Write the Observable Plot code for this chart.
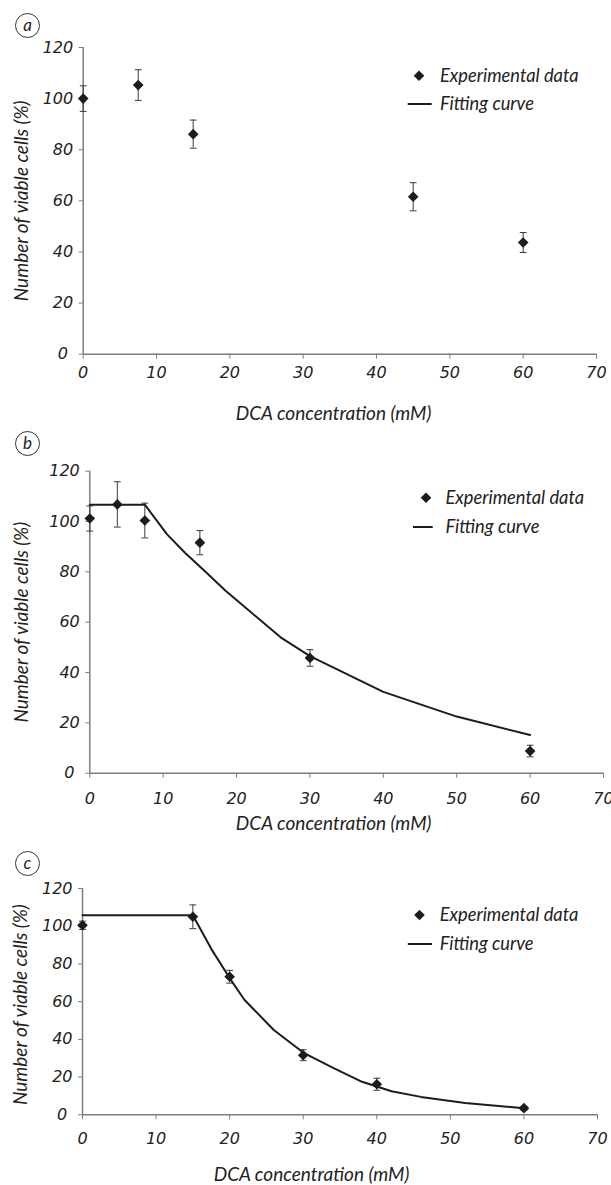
<!DOCTYPE html>
<html>
<head>
<meta charset="utf-8">
<script src="https://cdn.jsdelivr.net/npm/d3@7"></script>
<script src="https://cdn.jsdelivr.net/npm/@observablehq/plot@0.6"></script>
<style>
  body { margin: 0; background: #fff; }
  #root { position: relative; width: 611px; height: 1185px; overflow: hidden; background: #fff; }
  .plot { position: absolute; left: 0; }
  .badge { position: absolute; width: 25px; height: 25px; border: 1px solid #333; border-radius: 50%;
           font: italic 17px Lato, sans-serif; color: #222; display: flex; align-items: center; justify-content: center;
           box-sizing: border-box; line-height: 1; padding-bottom: 2px; }
  .leg { position: absolute; font: italic 18.3px Lato, sans-serif; color: #222; white-space: nowrap; line-height: 1; }
  .legsym { position: absolute; overflow: visible; }
</style>
</head>
<body>
<div id="root"></div>
<script>
// ---------- data ----------
const xTicks = [0, 10, 20, 30, 40, 50, 60, 70];
const yTicks = [0, 20, 40, 60, 80, 100, 120];
const xLabel = "DCA concentration (mM)";
const yLabel = "Number of viable cells (%)";
const legendLabels = ["Experimental data", "Fitting curve"];
const panelNames = ["a", "b", "c"];

// panel a
const aConc   = [0, 7.5, 15, 45, 60];
const aViable = [100, 105.3, 86.1, 61.6, 43.7];
const aErr    = [5, 6, 5.5, 5.5, 3.9];

// panel b
const bConc   = [0, 3.75, 7.5, 15, 30, 60];
const bViable = [101.2, 106.8, 100.4, 91.6, 45.8, 8.8];
const bErr    = [5, 9, 6.9, 4.8, 3.3, 2.3];
const bFitConc   = [0, 7.5, 10.5, 13, 15.4, 18.5, 26, 30, 40, 50, 60];
const bFitViable = [106.7, 106.7, 95, 87.5, 81, 72.5, 54, 46.5, 32.3, 22.5, 15.2];

// panel c
const cConc   = [0, 15, 20, 30, 40, 60];
const cViable = [100.5, 105, 73.2, 31.6, 16.2, 3.5];
const cErr    = [2.2, 6.3, 3.4, 2.9, 3.2, 1];
const cFitConc   = [0, 15, 17.5, 20, 22, 26, 30, 34, 38, 42, 46, 52, 60];
const cFitViable = [105.8, 105.8, 88, 72.5, 61, 45, 33, 25, 17.5, 12.5, 9.5, 6.2, 3.5];

// ---------- helpers ----------
const pts = (xs, ys, es) => xs.map((x, i) => ({x, y: ys[i], lo: ys[i] - es[i], hi: ys[i] + es[i]}));
const line = (xs, ys) => xs.map((x, i) => ({x, y: ys[i]}));

const capSymbol = {
  draw(ctx, size) {
    const w = Math.sqrt(size / Math.PI);
    ctx.moveTo(-w, 0);
    ctx.lineTo(w, 0);
  }
};

const AXIS = "#7d7d7d";
const INK = "#1c1c1c";
const LABFONT = {fontFamily: "Lato, sans-serif", fontStyle: "italic", fontSize: 19};

const panels = [
  { name: "a", top: 0, height: 430, mt: 47, mb: 76.3, ml: 82.7, mr: 15, tickPad: 7,
    pts: pts(aConc, aViable, aErr), fit: null,
    xlabDx: -6.3, xlabDy: 59.3, ylabDx: -61.7, ylabDy: 0,
    badge: [27.7, 25.7],
    leg: { d: [419, 75.7], l: [407.7, 431.7, 104], tx: 440 } },
  { name: "b", top: 430, height: 410, mt: 40.7, mb: 67.3, ml: 89.3, mr: 8, tickPad: 14,
    pts: pts(bConc, bViable, bErr), fit: line(bFitConc, bFitViable),
    xlabDx: -13, xlabDy: 50.3, ylabDx: -68, ylabDy: 0,
    badge: [27.5, 443.3],
    leg: { d: [426, 497.7], l: [413, 432.7, 527], tx: 445.5 } },
  { name: "c", top: 840, height: 345, mt: 48, mb: 70.7, ml: 82, mr: 14, tickPad: 13,
    pts: pts(cConc, cViable, cErr), fit: line(cFitConc, cFitViable),
    xlabDx: -28.5, xlabDy: 60, ylabDx: -62, ylabDy: 3,
    badge: [27.3, 863.3],
    leg: { d: [419.5, 915], l: [407.8, 432, 944], tx: 439.7 } }
];

const root = document.getElementById("root");

panels.forEach((p, i) => {
  const marks = [
    Plot.ruleY([0], {stroke: AXIS, strokeWidth: 1.5}),
    Plot.ruleX([0], {stroke: AXIS, strokeWidth: 1.5}),
    Plot.axisX({ticks: xTicks, tickSize: 5, tickPadding: p.tickPad, stroke: AXIS, fill: "#222", label: null}),
    Plot.axisY({ticks: yTicks, tickSize: 4, tickPadding: 6, stroke: AXIS, fill: "#222", label: null,
                tickFormat: d => d === 0 ? "0\u2004" : String(d)}),
    Plot.ruleX(p.pts, {x: "x", y1: "lo", y2: "hi", stroke: "#3a3a3a", strokeWidth: 1}),
    Plot.dot(p.pts, {x: "x", y: "hi", symbol: capSymbol, r: 3.4, stroke: "#3a3a3a", strokeWidth: 1, fill: "none"}),
    Plot.dot(p.pts, {x: "x", y: "lo", symbol: capSymbol, r: 3.4, stroke: "#3a3a3a", strokeWidth: 1, fill: "none"}),
  ];
  if (p.fit) marks.push(Plot.line(p.fit, {x: "x", y: "y", stroke: INK, strokeWidth: 2}));
  marks.push(
    Plot.dot(p.pts, {x: "x", y: "y", symbol: "diamond2", r: 4.8, fill: INK, stroke: "none"}),
    Plot.text([xLabel], {text: d => d, frameAnchor: "bottom", textAnchor: "middle", lineAnchor: "middle",
                         dx: p.xlabDx, dy: p.xlabDy, fill: "#222", ...LABFONT}),
    Plot.text([yLabel], {text: d => d, frameAnchor: "left", textAnchor: "middle", lineAnchor: "middle",
                         dx: p.ylabDx, dy: p.ylabDy, rotate: -90, fill: "#222", ...LABFONT})
  );
  const chart = Plot.plot({
    width: 611, height: p.height,
    marginTop: p.mt, marginBottom: p.mb, marginLeft: p.ml, marginRight: p.mr,
    x: {domain: [0, 70]},
    y: {domain: [0, 120]},
    style: {fontFamily: "'DejaVu Sans', sans-serif", fontStyle: "oblique", fontSize: "16px", color: "#222", background: "transparent", overflow: "visible"},
    marks
  });
  chart.classList.add("plot");
  chart.style.top = p.top + "px";
  root.appendChild(chart);

  // panel badge
  const b = document.createElement("div");
  b.className = "badge";
  b.textContent = panelNames[i];
  b.style.left = (p.badge[0] - 12.5) + "px";
  b.style.top = (p.badge[1] - 12.5) + "px";
  root.appendChild(b);

  // legend
  const ns = "http://www.w3.org/2000/svg";
  const sym = document.createElementNS(ns, "svg");
  sym.setAttribute("class", "legsym");
  sym.setAttribute("width", 611); sym.setAttribute("height", 1185);
  sym.style.left = "0px"; sym.style.top = "0px";
  const poly = document.createElementNS(ns, "path");
  const [dx0, dy0] = p.leg.d, s = 5.3;
  poly.setAttribute("d", `M${dx0},${dy0 - s}L${dx0 + s},${dy0}L${dx0},${dy0 + s}L${dx0 - s},${dy0}Z`);
  poly.setAttribute("fill", INK);
  sym.appendChild(poly);
  const ln = document.createElementNS(ns, "line");
  ln.setAttribute("x1", p.leg.l[0]); ln.setAttribute("x2", p.leg.l[1]);
  ln.setAttribute("y1", p.leg.l[2]); ln.setAttribute("y2", p.leg.l[2]);
  ln.setAttribute("stroke", INK); ln.setAttribute("stroke-width", 2);
  sym.appendChild(ln);
  root.appendChild(sym);

  [[legendLabels[0], dy0], [legendLabels[1], p.leg.l[2]]].forEach(([t, y]) => {
    const d = document.createElement("div");
    d.className = "leg";
    d.textContent = t;
    d.style.left = p.leg.tx + "px";
    d.style.top = (y - 10) + "px";
    root.appendChild(d);
  });
});
</script>
</body>
</html>
